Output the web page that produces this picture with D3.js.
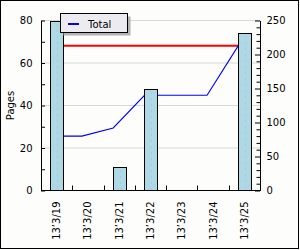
<!DOCTYPE html>
<html><head><meta charset="utf-8">
<script src="https://cdn.jsdelivr.net/npm/d3@7"></script>
<style>
html,body{margin:0;padding:0;background:#fff;}
svg{display:block;font-family:"DejaVu Sans",Verdana,sans-serif;}
</style></head>
<body>
<script>
const categories = ["13’3/19","13’3/20","13’3/21","13’3/22","13’3/23","13’3/24","13’3/25"];
const barValues = [80, 0, 11, 48, 0, 0, 74];          // left axis (Pages)
const totalValues = [80, 80, 92, 140, 140, 140, 213]; // right axis
const refValues = [213, 213, 213, 213, 213, 213, 213]; // right axis, red
const leftTicks = [0,10,20,30,40,50,60,70,80];
const leftLabels = [0,20,40,60,80];
const rightTicks = d3.range(0, 251, 10);
const rightLabels = [0,50,100,150,200,250];
const legendLabel = "Total";
const yTitle = "Pages";

const W = 300, H = 250;
const L = 41, R = 260, T = 20.5, B = 190.5;

const svg = d3.select("body").append("svg").attr("width", W).attr("height", H);
svg.append("rect").attr("x",0).attr("y",0).attr("width",W).attr("height",H).attr("fill","#fdfdfb");
svg.append("rect").attr("x",0.5).attr("y",0.5).attr("width",298).attr("height",248)
  .attr("fill","none").attr("stroke","#000");

const x = d3.scaleBand().domain(categories).range([L, R]).padding(0);
const yL = d3.scaleLinear().domain([0, 80]).range([B, T]);
const yR = d3.scaleLinear().domain([0, 250]).range([B, T]);
const barW = x.bandwidth() * 0.42;
const lineOffset = -6;
const cx = d => x(d) + x.bandwidth() / 2;

// gridlines
svg.append("g").selectAll("line").data(leftLabels.filter(v => v > 0)).join("line")
  .attr("x1", L).attr("x2", R).attr("y1", d => yL(d)).attr("y2", d => yL(d))
  .attr("stroke", "#d8d8d8").attr("stroke-width", 1);

// red reference line
const lineGen = d3.line().x((d, i) => cx(categories[i]) + lineOffset).y(d => yR(d));
svg.append("path").datum(refValues).attr("d", lineGen)
  .attr("fill", "none").attr("stroke", "#ff0000").attr("stroke-width", 2);
// blue total line
svg.append("path").datum(totalValues).attr("d", lineGen)
  .attr("fill", "none").attr("stroke", "#0000ff").attr("stroke-width", 1.1);

// bars
const bars = svg.append("g");
categories.forEach((c, i) => {
  if (barValues[i] <= 0) return;
  const x0 = Math.round(cx(c) - barW / 2) + 0.5;
  const y0 = Math.round(yL(barValues[i])) + 0.5;
  bars.append("rect").attr("x", x0).attr("y", y0)
    .attr("width", Math.round(barW)).attr("height", B - y0)
    .attr("fill", "#add8e6").attr("stroke", "#000").attr("stroke-width", 1);
  bars.append("line").attr("x1", x0 + Math.round(barW/2)).attr("x2", x0 + Math.round(barW/2))
    .attr("y1", y0 + 3).attr("y2", B - 1)
    .attr("stroke", "#d7a9a9").attr("stroke-width", 1).attr("stroke-dasharray", "1,5");
});

// left axis
const gL = svg.append("g").attr("transform", `translate(${L},0)`)
  .call(d3.axisLeft(yL).tickValues(leftTicks).tickSizeInner(-4).tickSizeOuter(0).tickPadding(8.5)
    .tickFormat(d => leftLabels.includes(d) ? d : ""));
gL.select(".domain").attr("stroke", "#000");
gL.selectAll("line").attr("stroke", "#000");
gL.selectAll("text").attr("font-size", 10).attr("fill", "#000").attr("font-family", "DejaVu Sans");

// right axis
const gR = svg.append("g").attr("transform", `translate(${R},0)`)
  .call(d3.axisRight(yR).tickValues(rightTicks).tickSizeInner(-4).tickSizeOuter(0).tickPadding(6.5)
    .tickFormat(d => rightLabels.includes(d) ? d : ""));
gR.select(".domain").attr("stroke", "#000");
gR.selectAll(".tick line").attr("stroke", "#000").attr("x2", d => rightLabels.includes(d) ? -5 : -3.5);
gR.selectAll("text").attr("font-size", 10).attr("fill", "#000").attr("font-family", "DejaVu Sans");

// bottom axis
svg.append("line").attr("x1", L).attr("x2", R).attr("y1", B).attr("y2", B).attr("stroke", "#000");
svg.append("g").selectAll("line").data(categories.slice(1)).join("line")
  .attr("x1", d => Math.round(x(d)) + 0.5).attr("x2", d => Math.round(x(d)) + 0.5)
  .attr("y1", B).attr("y2", B - 5).attr("stroke", "#000");
svg.append("g").selectAll("text").data(categories).join("text")
  .attr("transform", d => `translate(${cx(d) + 3.5},${B + 11}) rotate(-90)`)
  .attr("text-anchor", "end").attr("font-size", 10).attr("fill", "#000").text(d => d);

// y title
svg.append("text").attr("transform", `translate(13.5,${(T + B) / 2}) rotate(-90)`)
  .attr("text-anchor", "middle").attr("font-size", 10).attr("fill", "#000").text(yTitle);

// legend
const lg = svg.append("g");
lg.append("rect").attr("x", 63.5).attr("y", 16.5).attr("width", 67).attr("height", 19).attr("fill", "#b4b4b4");
lg.append("rect").attr("x", 60.5).attr("y", 13.5).attr("width", 67).attr("height", 19)
  .attr("fill", "#ecebf0").attr("stroke", "#000");
lg.append("line").attr("x1", 68).attr("x2", 79).attr("y1", 24).attr("y2", 24)
  .attr("stroke", "#0000ff").attr("stroke-width", 2);
lg.append("text").attr("x", 88).attr("y", 27.5).attr("font-size", 10).attr("fill", "#000").text(legendLabel);
</script>
</body></html>
